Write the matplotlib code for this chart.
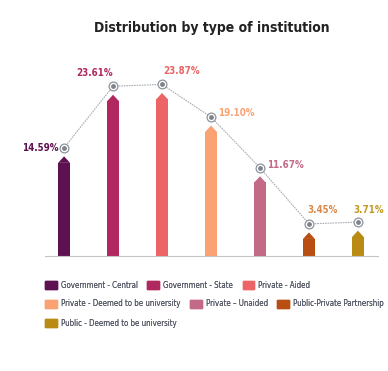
import numpy as np
import matplotlib.pyplot as plt

categories = ['Government - Central', 'Government - State', 'Private - Aided',
              'Private - Deemed to be university', 'Private \u2013 Unaided',
              'Public-Private Partnership', 'Public - Deemed to be university']
shares = [14.59, 23.61, 23.87, 19.10, 11.67, 3.45, 3.71]
bar_colors = ['#5e1150', '#b1275f', '#ec6466', '#fba275', '#c36a86', '#b94e12', '#b98b12']
label_colors = ['#5e1150', '#b1275f', '#ec6466', '#fba275', '#c36a86', '#d98a4a', '#c49a22']

# label offsets in pixels from each marker, and alignment
label_offsets = [(-6, 0, 'right'), (0, 13, 'right'), (1, 13, 'left'), (7, 4, 'left'),
                 (7, 3, 'left'), (-2, 14, 'left'), (-5, 12, 'left')]

plt.rcParams['font.family'] = 'DejaVu Sans'
plt.rcParams['font.stretch'] = 'condensed'

fig = plt.figure(figsize=(3.88, 3.71), dpi=100)
ax = fig.add_axes([45 / 388, 1 - 256 / 371, 333 / 388, 196 / 371])

x = np.arange(len(shares))
vals = np.array(shares)
w = 0.245
tip = 0.9
ax.bar(x, vals - tip, width=w, color=bar_colors)
for xi, v, c in zip(x, vals, bar_colors):
    ax.fill([xi - w / 2, xi, xi + w / 2], [v - tip - 0.05, v, v - tip - 0.05], color=c, lw=0)

mk = vals + 1.25
ax.plot(x, mk, color='#a9adb5', lw=0.8, ls=(0, (1.5, 0.8)), zorder=3)
ax.scatter(x, mk, s=40, facecolor='white', edgecolor='#8d929b', linewidth=0.9, zorder=4)
ax.scatter(x, mk, s=6, color='#7d828b', zorder=5)

for xi, m, v, c, (dx, dy, ha) in zip(x, mk, vals, label_colors, label_offsets):
    ax.annotate(f'{v:.2f}%', (xi, m), xytext=(dx, dy), textcoords='offset pixels',
                ha=ha, va='center', color=c, fontsize=7, fontweight='bold')

ax.set_xlim(-0.39, 6.41)
ax.set_ylim(0, 28.7)
for s in ['top', 'right', 'left']:
    ax.spines[s].set_visible(False)
ax.spines['bottom'].set_color('#c4c4c4')
ax.set_xticks([])
ax.set_yticks([])

fig.text(212 / 388, 1 - 28 / 371, 'Distribution by type of institution', ha='center', va='center',
         fontsize=10, fontweight='bold', color='#222222')

# legend rows flow like the original
rows = [[0, 1, 2], [3, 4, 5], [6]]
row_y = [285, 304, 323]
for idx, yy in zip(rows, row_y):
    handles = [plt.Rectangle((0, 0), 1, 1, color=bar_colors[i]) for i in idx]
    leg = fig.legend(handles, [categories[i] for i in idx], loc='center left',
                     bbox_to_anchor=(45 / 388, 1 - yy / 371), ncol=len(idx), frameon=False,
                     fontsize=5.7, handlelength=1.5, handleheight=1.2, handletextpad=0.5,
                     columnspacing=1.2, borderpad=0, borderaxespad=0, labelcolor='#555a66')
    fig.add_artist(leg)

fig.savefig('out.png', dpi=100)
